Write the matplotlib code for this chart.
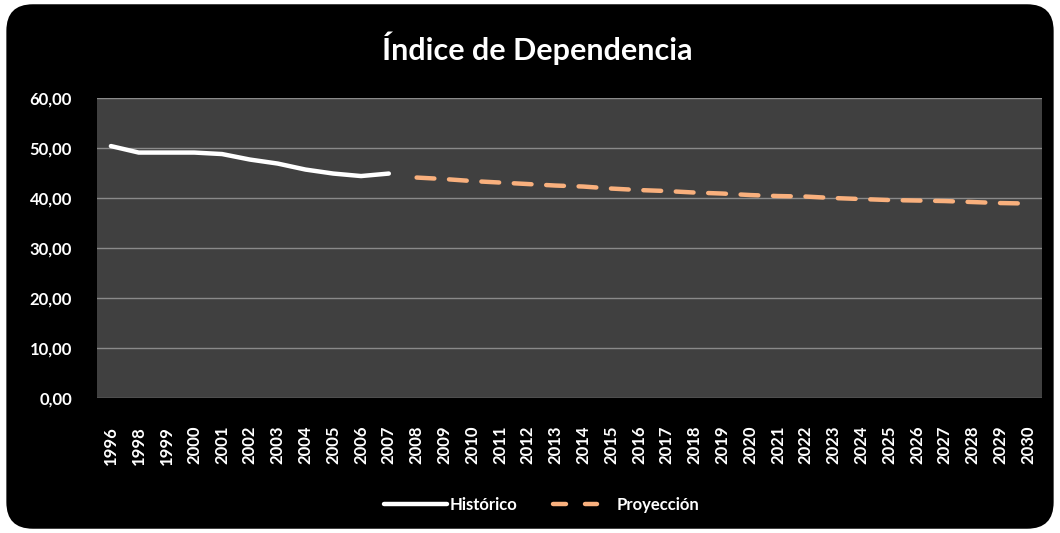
import numpy as np
import matplotlib.pyplot as plt
from matplotlib.patches import FancyBboxPatch
from matplotlib.ticker import FuncFormatter
from matplotlib.legend_handler import HandlerLine2D

# Datos
years = ["1996"] + [str(y) for y in range(1998, 2031)]
historico = [50.4, 49.1, 49.1, 49.1, 48.8, 47.7, 46.9, 45.7, 44.9, 44.4, 44.9]
proyeccion = [44.1, 43.8, 43.4, 43.1, 42.8, 42.5, 42.3, 41.9, 41.6, 41.4, 41.1,
              40.9, 40.6, 40.4, 40.3, 40.0, 39.8, 39.6, 39.5, 39.4, 39.2, 39.0, 38.9]

plt.rcParams['font.family'] = ['Lato', 'DejaVu Sans']


class TwoDashHandler(HandlerLine2D):
    # muestra exactamente dos trazos en la leyenda
    def create_artists(self, legend, orig_handle, xdescent, ydescent, width, height, fontsize, trans):
        arts = super().create_artists(legend, orig_handle, xdescent, ydescent, width, height, fontsize, trans)
        line = arts[0]
        x0 = line.get_xdata()[0]
        y0 = line.get_ydata()[0]
        line.set_linestyle('-')
        line.set_solid_capstyle('round')
        line.set_data([x0 + 1.6, x0 + 10.6, np.nan, x0 + 24.6, x0 + 33.6],
                      [y0, y0, np.nan, y0, y0])
        return arts


fig = plt.figure(figsize=(10.6, 5.33), dpi=100, facecolor='white')
# fondo negro redondeado
bg = FancyBboxPatch((0.006, 0.008), 0.988, 0.984, boxstyle="round,pad=0,rounding_size=0.025",
                    transform=fig.transFigure, facecolor='black', edgecolor='none',
                    mutation_aspect=1060 / 533, zorder=-10)
fig.patches.append(bg)

ax = fig.add_axes([0.0915, 0.2533, 0.8915, 0.5627])
ax.set_facecolor('#404040')

x_hist = list(range(len(historico)))
x_proy = list(range(len(historico), len(historico) + len(proyeccion)))
l1, = ax.plot(x_hist, historico, color='white', lw=3.2, solid_capstyle='round',
              solid_joinstyle='round', label='Histórico')
l2, = ax.plot(x_proy, proyeccion, color='#F9B07D', lw=3.2, dashes=(4.0, 3.3),
              dash_capstyle='round', label='Proyección')

ax.set_xlim(-0.5, len(years) - 0.5)
ax.set_ylim(0, 60)
ax.set_yticks(range(0, 61, 10))
ax.yaxis.set_major_formatter(FuncFormatter(lambda v, p: f"{v:.2f}".replace('.', ',')))
ax.set_xticks(range(len(years)))
ax.set_xticklabels(years, rotation=90)
ax.grid(axis='y', color='#8a8a8a', lw=1)
ax.set_axisbelow(True)
for s in ax.spines.values():
    s.set_visible(False)
ax.tick_params(length=0, colors='white', labelsize=12, pad=20)
for lab in ax.get_xticklabels() + ax.get_yticklabels():
    lab.set_fontweight('bold')
ax.tick_params(axis='y', pad=18)

fig.text(0.507, 0.91, 'Índice de Dependencia', color='white', fontsize=22,
         fontweight='bold', ha='center', va='center')

leg = fig.legend(handles=[l1, l2], loc='center', bbox_to_anchor=(0.511, 0.052), ncol=2,
                 frameon=False, fontsize=12, handlelength=3.8, columnspacing=2.0,
                 handletextpad=0.15, handler_map={l2: TwoDashHandler()})
for t in leg.get_texts():
    t.set_color('white')
    t.set_fontweight('bold')

fig.savefig('out.png', dpi=100, facecolor='white')
